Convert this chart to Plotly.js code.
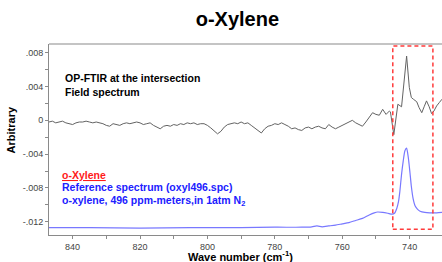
<!DOCTYPE html>
<html>
<head>
<meta charset="utf-8">
<script src="https://cdn.plot.ly/plotly-3.0.1.min.js"></script>
<style>html,body{margin:0;padding:0;background:#fff;}#chart{width:442px;height:262px;}</style>
</head>
<body>
<div id="chart"></div>
<script>
// Field spectrum (OP-FTIR at the intersection)
const fieldWavenumber = [847,846,845,844,843,842,841,840,839,838,837,836,835,834,833,832,831,830,829,828,827,826,825,824,823,822,821,820,819,818,817,816,815,814,813,812,811,810,809,808,807,806,805,804,803,802,801,800,799,798,797,796,795,794,793,792,791,790,789,788,787,786,785,784,783,782,781,780,779,778,777,776,775,774,773,772,771,770,769,768,767,766,765,764,763,762,761,760,759,758,757,756,755,754,753,752,751,750,749,748,747,746,745.7,744.7,744,743.5,742.4,741.7,740.9,740.1,739.5,738.9,737.9,737.2,736.4,735.7,735,734.2,733.5,732.8,732,731.2,730.4];
const fieldValue = [-0.0002,-0.0001,-0.0003,-0.0002,-0.0001,-0.0003,-0.0004,-0.0005,-0.0003,-0.0002,-0.0002,-0.0001,-0.0002,-0.0003,-0.0002,-0.0003,-0.0004,-0.0006,-0.0007,-0.0004,-0.0005,-0.0006,-0.0004,-0.0003,-0.0004,-0.0003,-0.0002,-0.0003,-0.0005,-0.0004,-0.0003,-0.0006,-0.0008,-0.0010,-0.0007,-0.0006,-0.0007,-0.0005,-0.0006,-0.0004,-0.0005,-0.0003,-0.0004,-0.0003,-0.0005,-0.0004,-0.0004,-0.0006,-0.0009,-0.0012,-0.0016,-0.0013,-0.0008,-0.0005,-0.0004,-0.0003,-0.0004,-0.0002,-0.0004,-0.0003,-0.0006,-0.0009,-0.0013,-0.0015,-0.0010,-0.0007,-0.0006,-0.0004,-0.0005,-0.0003,-0.0005,-0.0007,-0.0010,-0.0009,-0.0011,-0.0012,-0.0009,-0.0008,-0.0010,-0.0008,-0.0007,-0.0009,-0.0010,-0.0005,-0.0008,-0.0010,-0.0008,-0.0006,-0.0004,-0.0002,0.0000,-0.0003,-0.0005,-0.0007,-0.0002,0.0004,0.0009,0.0007,0.0006,0.0013,0.0007,0.0011,0.0010,-0.0017,0.0002,0.0019,0.0016,0.0043,0.0076,0.0039,0.0027,0.0025,0.0022,0.0015,0.0009,0.0016,0.0023,0.0016,0.0008,0.0011,0.0017,0.0021,0.0025];

// Reference spectrum (oxyl496.spc)
const refWavenumber = [847,835,820,805,790,780,772,769,767.5,766,764,762,760,758,756,754,752,750.5,749.5,748,746.5,745.2,744.5,743.8,743.3,742.9,742.4,741.9,741.4,740.9,740.4,739.9,739.5,739,738.4,737.7,736.9,735.5,734,732,730.4];
const refValue = [-0.0127,-0.0127,-0.01275,-0.0127,-0.0127,-0.01265,-0.01265,-0.0126,-0.0125,-0.0126,-0.0125,-0.0124,-0.01225,-0.0121,-0.01185,-0.0116,-0.0112,-0.01095,-0.01085,-0.0109,-0.011,-0.0111,-0.011,-0.0104,-0.0096,-0.0084,-0.0064,-0.0048,-0.0036,-0.0033,-0.0044,-0.0062,-0.0078,-0.0092,-0.0101,-0.0105,-0.01075,-0.0109,-0.01095,-0.01095,-0.0109];

// Ticks
const xTickVals = [840,820,800,780,760,740];
const xTickText = ['840','820','800','780','760','740'];
const xMinorVals = [850,830,810,790,770,750];
const yTickVals = [0.008,0.004,0,-0.004,-0.008,-0.012];
const yTickText = ['.008','.004','0','-.004','-.008','-.012'];
const yMinorVals = [0.006,0.002,-0.002,-0.006,-0.010];

const FONT = 'Liberation Sans, Arial, sans-serif';

const traces = [
  {x: fieldWavenumber, y: fieldValue, type: 'scatter', mode: 'lines',
   line: {color: '#636363', width: 1}, hoverinfo: 'skip'},
  {x: refWavenumber, y: refValue, type: 'scatter', mode: 'lines',
   line: {color: '#7878ff', width: 1.2, shape: 'spline', smoothing: 0.6}, hoverinfo: 'skip'}
];

const axisCommon = {
  showgrid: false, zeroline: false, showline: true, linecolor: '#8a8a8a', linewidth: 1,
  ticks: 'outside', ticklen: 3, tickcolor: '#8a8a8a', tickmode: 'array',
  tickfont: {family: FONT, size: 9, color: '#444'}
};

const layout = {
  width: 442, height: 262,
  margin: {l: 49, r: 0, t: 44, b: 27},
  paper_bgcolor: '#fff', plot_bgcolor: '#fff',
  showlegend: false,
  title: {text: '<b>o-Xylene</b>', font: {family: FONT, size: 20, color: '#000'},
          xref: 'container', x: 0.537, xanchor: 'center', yref: 'container', y: 0.927, yanchor: 'middle'},
  xaxis: Object.assign({}, axisCommon, {range: [847, 730.4], tickvals: xTickVals, ticktext: xTickText,
    minor: {tickmode: 'array', tickvals: xMinorVals, ticks: 'outside', ticklen: 3, tickcolor: '#8a8a8a', showgrid: false}}),
  yaxis: Object.assign({}, axisCommon, {range: [-0.01357, 0.00903], tickvals: yTickVals, ticktext: yTickText,
    minor: {tickmode: 'array', tickvals: yMinorVals, ticks: 'outside', ticklen: 3, tickcolor: '#8a8a8a', showgrid: false}}),
  shapes: [
    {type: 'line', xref: 'paper', yref: 'paper', x0: 0, x1: 1, y0: 1, y1: 1,
     line: {color: '#c4c4c4', width: 2}},
    {type: 'rect', xref: 'x', yref: 'y', x0: 745, x1: 733.1, y0: -0.0129, y1: 0.0088,
     line: {color: '#ff3b3b', width: 1.5, dash: '4px,3px'}}
  ],
  annotations: [
    {text: '<b>Wave number (cm<sup>-1</sup>)</b>', xref: 'paper', yref: 'paper', x: 0.488, y: -0.11,
     xanchor: 'center', yanchor: 'middle', showarrow: false, font: {family: FONT, size: 11, color: '#000'}},
    {text: '<b>Arbitrary</b>', xref: 'paper', yref: 'paper', x: -0.098, y: 0.55, textangle: -90,
     xanchor: 'center', yanchor: 'middle', showarrow: false, font: {family: FONT, size: 11, color: '#000'}},
    {text: '<b>OP-FTIR at the intersection</b>', xref: 'paper', yref: 'paper', x: 0.036, y: 0.822,
     xanchor: 'left', yanchor: 'middle', showarrow: false, font: {family: FONT, size: 10.5, color: '#000'}},
    {text: '<b>Field spectrum</b>', xref: 'paper', yref: 'paper', x: 0.036, y: 0.750,
     xanchor: 'left', yanchor: 'middle', showarrow: false, font: {family: FONT, size: 10.5, color: '#000'}},
    {text: '<b><u>o-Xylene</u></b>', xref: 'paper', yref: 'paper', x: 0.028, y: 0.314,
     xanchor: 'left', yanchor: 'middle', showarrow: false, font: {family: FONT, size: 10.5, color: '#ff1a1a'}},
    {text: '<b>Reference spectrum (oxyl496.spc)</b>', xref: 'paper', yref: 'paper', x: 0.028, y: 0.250,
     xanchor: 'left', yanchor: 'middle', showarrow: false, font: {family: FONT, size: 10.5, color: '#2020ff'}},
    {text: '<b>o-xylene, 496 ppm-meters,in 1atm N<sub>2</sub></b>', xref: 'paper', yref: 'paper', x: 0.028, y: 0.180,
     xanchor: 'left', yanchor: 'middle', showarrow: false, font: {family: FONT, size: 10.5, color: '#2020ff'}}
  ]
};

Plotly.newPlot('chart', traces, layout, {staticPlot: true, displayModeBar: false});
</script>
</body>
</html>
